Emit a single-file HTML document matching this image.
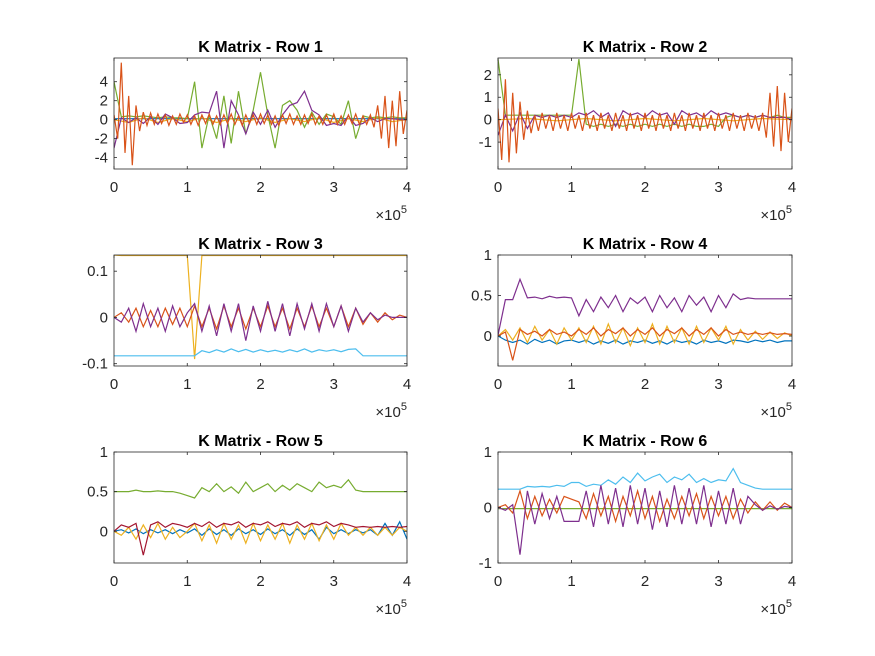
<!DOCTYPE html>
<html><head><meta charset="utf-8"><style>
html,body{margin:0;padding:0;background:#fff;}
svg{display:block;font-family:"Liberation Sans",Arial,sans-serif;}
</style></head><body>
<svg id="fig" width="875" height="656" viewBox="0 0 875 656"></svg>
<script>
// ---- data (x spans 0..4e5 evenly across each array) ----
const xTicks = [0, 1, 2, 3, 4];
const titles = ["K Matrix - Row 1","K Matrix - Row 2","K Matrix - Row 3","K Matrix - Row 4","K Matrix - Row 5","K Matrix - Row 6"];
const yLims = [[-5.2,6.5],[-2.2,2.75],[-0.105,0.135],[-0.37,1],[-0.4,1],[-1,1]];
const yTicks1 = [-4,-2,0,2,4];
const yTicks2 = [-1,0,1,2];
const yTicks3 = [-0.1,0,0.1];
const yTicks4 = [0,0.5,1];
const yTicks5 = [0,0.5,1];
const yTicks6 = [-1,0,1];

// Row 1
const r1Blue = [0.1,0.1,0.1,0.1,0.1,0.1,0.1,0.1,0.1,0.1,0.1,0.1];
const r1Yellow = [0,-0.3,0.2,-0.3,0.1,-0.2,0.2,-0.3,0.1,-0.2,0.2,-0.3,0.1,-0.2,0.2,-0.3,0.1,-0.2,0.2,-0.2,0];
const r1Green = [4,0.3,0.4,0.3,0.4,0.3,0.2,0.3,0.2,0.2,0.1,4,-3,0.5,-2,2.5,-2.5,3,-1.5,1,5,0.5,-3,1.5,2,1,-0.8,0.8,-0.5,0.6,0.3,-0.5,2,-2,0.4,0.2,0.3,0.2,0.3,0.2,0.2];
const r1Purple = [-3,0.2,-0.3,0.2,-0.4,0.3,-0.5,0.6,0.2,-0.4,-0.3,0.5,0.8,0.7,3,-3,2,0.5,-1.5,0.8,-0.5,1,-0.8,0.5,1.5,1.8,3,1,0.5,-0.6,-0.4,-0.6,0.4,-0.6,-0.4,0.2,-0.2,0.1,0.1,0,0];
const r1Orange = [0.5,-2,6,-3.5,2.5,-4.8,1.5,-1.2,0.8,-0.6,0.7,-0.5,0.6,-0.4,0.5,-0.6,0.4,-0.5,0.6,-0.3,0.5,-0.5,0.4,-0.6,0.5,-0.4,0.6,-0.5,0.4,-0.5,0.5,-0.4,0.6,-0.5,0.4,-0.6,0.5,-0.4,0.5,-0.5,0.6,-0.4,0.5,-0.5,0.4,-0.6,0.5,-0.4,0.6,-0.5,0.4,-0.5,0.5,-0.4,0.6,-0.5,0.4,-0.5,0.5,-0.4,0.6,-0.5,0.4,-0.5,0.5,-0.4,0.6,-0.5,0.4,-0.5,0.5,-0.8,1.5,-2,2.5,-3,2,-2.8,3,-1.5,1];
// Row 2
const r2Yellow = [0,0.05,-0.05,0.05,-0.05,0.05,-0.05,0.05,-0.05,0.05,0];
const r2Green = [2.7,0.2,0.2,0.2,0.2,0.2,0.2,0.2,0.2,0.2,0.2,2.7,-0.2,-0.3,-0.2,-0.3,-0.2,-0.3,-0.2,-0.3,-0.2,-0.3,-0.2,-0.3,-0.2,-0.3,-0.2,-0.3,-0.3,-0.2,-0.3,0.1,0.2,0.1,0.2,0.1,0.2,0.1,0.2,0.1,0.1];
const r2Purple = [-0.7,0.2,-0.5,0.3,-0.4,0.2,0.1,0.2,0.1,0.2,0.1,0.3,0.2,0.4,0.1,0.3,-0.3,0.4,0.2,0.3,0.1,0.4,0.2,0.3,-0.2,0.4,0.2,0.3,0.1,0.4,0.2,0.3,0.2,0.1,0.2,0.1,0.2,0.1,0.1,0.1,0];
const r2Orange = [0.5,-1.8,1.8,-1.9,1.2,-1.5,0.8,-0.9,0.4,-0.6,0.2,-0.5,0.3,-0.4,0.2,-0.5,0.3,-0.4,0.2,-0.5,0.3,-0.4,0.2,-0.5,0.3,-0.4,0.2,-0.5,0.3,-0.4,0.2,-0.5,0.3,-0.4,0.2,-0.5,0.3,-0.4,0.2,-0.5,0.3,-0.4,0.2,-0.5,0.3,-0.4,0.2,-0.5,0.3,-0.4,0.2,-0.5,0.3,-0.4,0.2,-0.5,0.3,-0.4,0.2,-0.5,0.3,-0.4,0.2,-0.5,0.3,-0.4,0.2,-0.5,0.3,-0.4,0.2,-0.5,0.3,-0.8,1.2,-1.2,1.5,-1.4,1.2,-1,0.5];
// Row 3
const r3Yellow = [0.135,0.134,0.134,0.134,0.134,0.134,0.134,0.134,0.134,0.134,0.134,-0.09,0.134,0.134,0.134,0.134,0.134,0.134,0.134,0.134,0.134,0.134,0.134,0.134,0.134,0.134,0.134,0.134,0.134,0.134,0.134,0.134,0.134,0.134,0.134,0.134,0.134,0.134,0.134,0.134,0.134];
const r3LightBlue = [-0.083,-0.083,-0.083,-0.083,-0.083,-0.083,-0.083,-0.083,-0.083,-0.083,-0.083,-0.083,-0.072,-0.076,-0.07,-0.075,-0.068,-0.074,-0.069,-0.075,-0.07,-0.074,-0.071,-0.075,-0.07,-0.074,-0.068,-0.075,-0.07,-0.073,-0.07,-0.074,-0.069,-0.068,-0.083,-0.083,-0.083,-0.083,-0.083,-0.083,-0.083];
const r3Orange = [0,0.01,-0.01,0.02,-0.02,0.015,-0.02,0.02,-0.015,0.02,-0.02,0.025,-0.02,0.02,-0.025,0.025,-0.02,0.02,-0.025,0.02,-0.02,0.025,-0.02,0.02,-0.025,0.02,-0.02,0.025,-0.02,0.02,-0.02,0.025,-0.02,0.02,-0.015,0.01,-0.01,0.01,-0.005,0.005,0];
const r3Purple = [0,-0.01,0.02,-0.03,0.03,-0.02,0.02,-0.03,0.025,-0.02,0.01,0.03,-0.03,0.025,-0.04,0.03,-0.03,0.03,-0.05,0.025,-0.03,0.035,-0.03,0.03,-0.04,0.03,-0.025,0.03,-0.03,0.03,-0.02,0.025,-0.03,0.02,-0.01,0.01,-0.005,0.005,0,0,0];
// Row 4
const r4Purple = [0.01,0.45,0.45,0.7,0.47,0.48,0.46,0.49,0.47,0.48,0.47,0.25,0.45,0.3,0.48,0.35,0.5,0.3,0.47,0.4,0.48,0.3,0.5,0.35,0.47,0.3,0.5,0.38,0.48,0.3,0.5,0.35,0.52,0.45,0.47,0.46,0.46,0.46,0.46,0.46,0.46];
const r4Blue = [0,-0.05,-0.08,-0.05,-0.1,-0.04,-0.08,-0.05,-0.1,-0.06,-0.05,-0.08,-0.05,-0.1,-0.06,-0.09,-0.05,-0.1,-0.06,-0.08,-0.05,-0.09,-0.06,-0.1,-0.05,-0.08,-0.06,-0.1,-0.05,-0.08,-0.06,-0.09,-0.05,-0.06,-0.08,-0.05,-0.07,-0.05,-0.08,-0.06,-0.06];
const r4Yellow = [0,0.08,-0.05,0.1,-0.08,0.12,-0.05,0.08,-0.1,0.1,-0.05,0.1,-0.08,0.12,-0.1,0.15,-0.08,0.1,-0.12,0.1,-0.08,0.15,-0.1,0.12,-0.08,0.1,-0.1,0.12,-0.08,0.1,-0.05,0.12,-0.1,0.08,-0.05,0.06,-0.04,0.05,-0.03,0.04,0];
const r4Orange = [0,0.05,-0.3,0.08,0.02,0.06,0,0.08,0.02,0.05,0,0.08,0.02,0.1,0,0.08,0.03,0.1,0,0.08,0.02,0.1,0,0.08,0.03,0.1,0,0.08,0.02,0.1,0,0.08,0.02,0.05,0.02,0.04,0.02,0.04,0.02,0.03,0.02];
// Row 5
const r5Green = [0.5,0.5,0.5,0.52,0.5,0.5,0.51,0.5,0.5,0.48,0.45,0.42,0.55,0.5,0.6,0.5,0.56,0.48,0.62,0.5,0.55,0.6,0.5,0.58,0.52,0.6,0.55,0.5,0.62,0.55,0.58,0.55,0.65,0.52,0.5,0.5,0.5,0.5,0.5,0.5,0.5];
const r5Red = [0,0.08,0.05,0.1,-0.3,0.08,0.12,0.05,0.1,0.08,0.05,0.1,0.06,0.12,0.05,0.1,0.08,0.12,0.05,0.1,0.08,0.12,0.06,0.1,0.08,0.12,0.05,0.1,0.08,0.12,0.06,0.1,0.08,0.05,0.06,0.05,0.06,0.05,0.06,0.05,0.06];
const r5Yellow = [0,-0.05,0.05,-0.1,0.08,-0.08,0.1,-0.1,0.05,-0.08,0,0.1,-0.12,0.08,-0.15,0.1,-0.1,0.08,-0.15,0.1,-0.12,0.08,-0.1,0.1,-0.15,0.08,-0.1,0.1,-0.12,0.08,-0.1,0.1,-0.05,0.05,-0.05,0.05,-0.05,0.05,-0.05,0.05,0];
const r5Blue = [0,0.02,-0.02,0.03,-0.03,0.02,-0.02,0.02,-0.03,0.02,-0.02,0.03,-0.05,0.03,-0.04,0.02,-0.05,0.03,-0.03,0.02,-0.04,0.03,-0.03,0.02,-0.05,0.03,-0.04,0.02,-0.1,0.05,-0.03,0.02,-0.03,0.02,-0.02,0.02,-0.05,0.1,-0.05,0.12,-0.1];
// Row 6
const r6LightBlue = [0.33,0.33,0.33,0.33,0.38,0.37,0.38,0.37,0.4,0.38,0.45,0.45,0.38,0.42,0.4,0.5,0.42,0.55,0.45,0.62,0.48,0.55,0.6,0.45,0.55,0.5,0.6,0.45,0.52,0.45,0.5,0.48,0.7,0.45,0.4,0.35,0.33,0.33,0.33,0.33,0.33];
const r6Purple = [0,-0.05,0.05,-0.85,0.3,-0.3,0.25,-0.2,0.2,-0.25,-0.25,-0.25,0.3,-0.35,0.4,-0.3,0.35,-0.35,0.4,-0.3,0.35,-0.4,0.3,-0.35,0.4,-0.3,0.35,-0.3,0.4,-0.35,0.3,-0.3,0.35,-0.3,0.2,0.05,-0.05,0.03,-0.03,0.02,0];
const r6Orange = [0,0.05,-0.1,0.3,-0.2,0.2,-0.15,0.15,-0.1,0.2,0.15,0.1,-0.2,0.25,-0.15,0.2,-0.25,0.2,-0.15,0.3,-0.2,0.2,-0.25,0.15,-0.2,0.2,-0.15,0.25,-0.2,0.2,-0.15,0.2,-0.2,0.15,-0.1,0.1,-0.05,0.1,-0.05,0.08,0];
const r6Green = [-0.02,-0.02,-0.02,-0.02,-0.02,-0.02,-0.02,-0.02,-0.02,-0.02,-0.02,-0.02,-0.02,-0.02,-0.02,-0.02,-0.02,-0.02,-0.02,-0.02,-0.02];

const C = {blue:"#0072BD",orange:"#D95319",yellow:"#EDB120",purple:"#7E2F8E",green:"#77AC30",lightblue:"#4DBEEE",red:"#A2142F"};
const panels = [
  {yt:yTicks1, series:[["blue",r1Blue],["yellow",r1Yellow],["green",r1Green],["purple",r1Purple],["orange",r1Orange]]},
  {yt:yTicks2, series:[["yellow",r2Yellow],["green",r2Green],["purple",r2Purple],["orange",r2Orange]]},
  {yt:yTicks3, series:[["yellow",r3Yellow],["lightblue",r3LightBlue],["orange",r3Orange],["purple",r3Purple]]},
  {yt:yTicks4, series:[["blue",r4Blue],["yellow",r4Yellow],["orange",r4Orange],["purple",r4Purple]]},
  {yt:yTicks5, series:[["green",r5Green],["blue",r5Blue],["yellow",r5Yellow],["red",r5Red]]},
  {yt:yTicks6, series:[["lightblue",r6LightBlue],["green",r6Green],["orange",r6Orange],["purple",r6Purple]]}
];
const NS = "http://www.w3.org/2000/svg";
const svg = document.getElementById("fig");
function mk(tag, attrs, parent){const e=document.createElementNS(NS,tag);for(const k in attrs)e.setAttribute(k,attrs[k]);parent.appendChild(e);return e;}
panels.forEach((p,i)=>{
  const col=i%2,row=Math.floor(i/2);
  const L=col?498:114, R=col?792:407, T=58+row*197, B=169+row*197;
  const [y0,y1]=yLims[i];
  const sx=v=>L+(v/4e5)*(R-L);
  const sy=v=>B-(v-y0)/(y1-y0)*(B-T);
  const g=mk("g",{},svg);
  
  
  mk("rect",{x:L,y:T,width:R-L,height:B-T,fill:"#fff"},g);
  const clipId="c"+i;
  const cp=mk("clipPath",{id:clipId},g);
  mk("rect",{x:L,y:T,width:R-L,height:B-T},cp);
  const lg=mk("g",{"clip-path":"url(#"+clipId+")"},g);
  p.series.forEach(([c,arr])=>{
    const n=arr.length;
    const d=arr.map((v,k)=>(k?"L":"M")+sx(k*4e5/(n-1)).toFixed(1)+","+sy(v).toFixed(1)).join("");
    const path=mk("path",{d:d,fill:"none",stroke:C[c],"stroke-width":1.2},lg);
    
    
  });
  const box=mk("rect",{x:L,y:T,width:R-L,height:B-T,fill:"none",stroke:"#262626","stroke-width":0.8},g);
  
  
  xTicks.forEach(t=>{
    const x=sx(t*1e5);
    mk("line",{x1:x,x2:x,y1:B,y2:B-3,stroke:"#262626","stroke-width":0.8},g);
    mk("line",{x1:x,x2:x,y1:T,y2:T+3,stroke:"#262626","stroke-width":0.8},g);
    const tx=mk("text",{x:x,y:B+23,"text-anchor":"middle","font-size":15,fill:"#262626"},g);
    tx.textContent=t;
    
    
  });
  p.yt.forEach(t=>{
    const y=sy(t);
    mk("line",{x1:L,x2:L+3,y1:y,y2:y,stroke:"#262626","stroke-width":0.8},g);
    mk("line",{x1:R,x2:R-3,y1:y,y2:y,stroke:"#262626","stroke-width":0.8},g);
    const ty=mk("text",{x:L-6,y:y+5,"text-anchor":"end","font-size":15,fill:"#262626"},g);
    ty.textContent=t;
    
    
  });
  const ex=mk("text",{x:R,y:B+51,"text-anchor":"end","font-size":15,fill:"#262626"},g);
  ex.innerHTML='×10<tspan dy="-7" font-size="11">5</tspan>';
  
  
  const tt=mk("text",{x:(L+R)/2,y:T-6,"text-anchor":"middle","font-size":16,"font-weight":"bold",fill:"#000"},g);
  tt.textContent=titles[i];
  
  
});
</script>
</body></html>
